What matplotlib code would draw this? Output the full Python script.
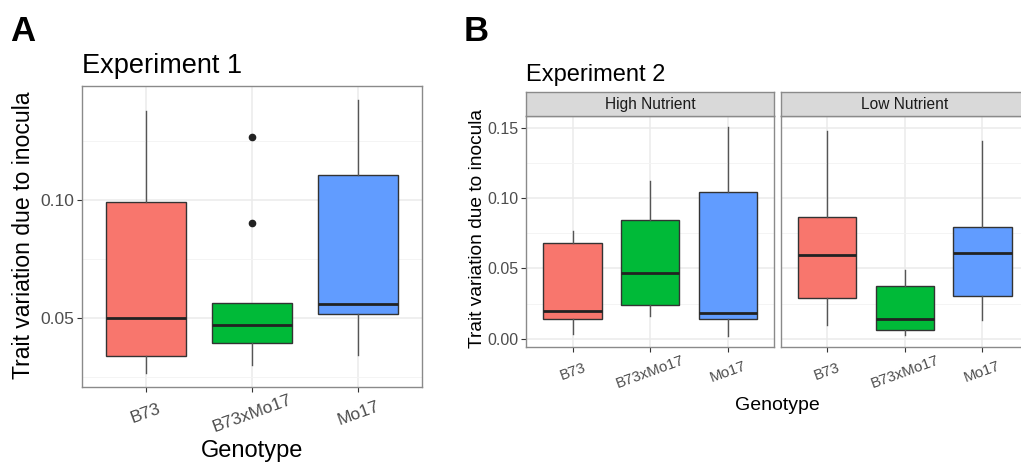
import matplotlib
matplotlib.use("Agg")
import matplotlib.pyplot as plt

plt.rcParams['font.family'] = ['Liberation Sans', 'DejaVu Sans']

genotypes = ["B73", "B73xMo17", "Mo17"]
colors = ["#F8766D", "#00BA38", "#619CFF"]

# Experiment 1 box statistics
exp1_whislo = [0.0264, 0.0301, 0.0343]
exp1_q1 = [0.0338, 0.0391, 0.0514]
exp1_med = [0.0500, 0.0469, 0.0558]
exp1_q3 = [0.0991, 0.0562, 0.1103]
exp1_whishi = [0.1374, 0.0562, 0.1424]
exp1_fliers = [[], [0.0901, 0.1266], []]

# Experiment 2, High Nutrient
high_whislo = [0.0033, 0.0159, 0.0017]
high_q1 = [0.0140, 0.0237, 0.0140]
high_med = [0.0194, 0.0466, 0.0182]
high_q3 = [0.0679, 0.0845, 0.1039]
high_whishi = [0.0762, 0.1117, 0.1507]

# Experiment 2, Low Nutrient
low_whislo = [0.0099, 0.0028, 0.0130]
low_q1 = [0.0289, 0.0059, 0.0300]
low_med = [0.0594, 0.0140, 0.0606]
low_q3 = [0.0868, 0.0371, 0.0795]
low_whishi = [0.1476, 0.0490, 0.1401]

W, H = 1021, 466
fig = plt.figure(figsize=(W / 100, H / 100), dpi=100)


def px(l, t, r, b):
    return [l / W, 1 - b / H, (r - l) / W, (b - t) / H]


def draw_boxes(ax, whislo, q1, med, q3, whishi, fliers, ylim, yticks, yminor,
               ytick_size, xtick_size, xpad, show_y=True):
    stats = []
    for i in range(len(genotypes)):
        stats.append(dict(whislo=whislo[i], q1=q1[i], med=med[i], q3=q3[i],
                          whishi=whishi[i], fliers=fliers[i]))
    bp = ax.bxp(stats, positions=range(len(genotypes)), widths=0.75,
                patch_artist=True, showcaps=False,
                boxprops=dict(edgecolor="#333333", linewidth=1.0),
                medianprops=dict(color="#222222", linewidth=2.0),
                whiskerprops=dict(color="#555555", linewidth=1.0),
                flierprops=dict(marker="o", markerfacecolor="#222222",
                                markeredgecolor="#222222", markersize=4.5))
    for patch, c in zip(bp["boxes"], colors):
        patch.set_facecolor(c)
    ax.set_xlim(-0.6, 2.6)
    ax.set_ylim(*ylim)
    ax.set_yticks(yticks)
    ax.set_yticks(yminor, minor=True)
    ax.set_xticks(range(len(genotypes)))
    # ggplot-style rotated labels: centred on the tick, rotated about their centre
    ax.set_xticklabels(genotypes, rotation=20, ha="center", va="center",
                       rotation_mode="anchor", fontsize=xtick_size, color="#4D4D4D")
    ax.set_yticklabels([f"{v:.2f}" for v in yticks], fontsize=ytick_size,
                       color="#4D4D4D")
    ax.grid(True, which="major", color="#EBEBEB", linewidth=1.1)
    ax.grid(True, which="minor", axis="y", color="#F3F3F3", linewidth=0.6)
    ax.set_axisbelow(True)
    ax.tick_params(which="major", length=3.5, color="#333333", width=0.8, pad=2)
    ax.tick_params(axis="x", pad=xpad)
    ax.tick_params(which="minor", length=0)
    if not show_y:
        ax.tick_params(axis="y", which="both", left=False, labelleft=False)
    for s in ax.spines.values():
        s.set_color("#8A8A8A")
        s.set_linewidth(1.0)


# Panel A
axA = fig.add_axes(px(82, 86, 422, 387))
draw_boxes(axA, exp1_whislo, exp1_q1, exp1_med, exp1_q3, exp1_whishi, exp1_fliers,
           (0.0206, 0.1482), [0.05, 0.10], [0.025, 0.075, 0.125], 12.5, 12.6, 15.5)

# Panel B facets
B_ylim = (-0.0061, 0.1582)
B_ticks = [0.00, 0.05, 0.10, 0.15]
B_minor = [0.025, 0.075, 0.125]
axB1 = fig.add_axes(px(526, 116, 774.3, 347.3))
draw_boxes(axB1, high_whislo, high_q1, high_med, high_q3, high_whishi, [[], [], []],
           B_ylim, B_ticks, B_minor, 11.5, 10.8, 14.0)
axB2 = fig.add_axes(px(780.7, 116, 1029, 347.3))
draw_boxes(axB2, low_whislo, low_q1, low_med, low_q3, low_whishi, [[], [], []],
           B_ylim, B_ticks, B_minor, 11.5, 10.8, 14.0, show_y=False)

# facet strips
for l, r, label in [(526, 774.3, "High Nutrient"), (780.7, 1029, "Low Nutrient")]:
    sax = fig.add_axes(px(l, 92.3, r, 116))
    sax.set_facecolor("#D9D9D9")
    sax.set_xticks([])
    sax.set_yticks([])
    for s in sax.spines.values():
        s.set_color("#8A8A8A")
        s.set_linewidth(1.0)
    sax.text(0.5, 0.5, label, ha="center", va="center", fontsize=11.2,
             color="#1A1A1A", transform=sax.transAxes)

# titles and labels
fig.text(10 / W, 1 - 41 / H, "A", fontsize=25, fontweight="bold", va="baseline")
fig.text(464 / W, 1 - 41 / H, "B", fontsize=25, fontweight="bold", va="baseline")
fig.text(82 / W, 1 - 72.7 / H, "Experiment 1", fontsize=19.5, va="baseline")
fig.text(526 / W, 1 - 81 / H, "Experiment 2", fontsize=17, va="baseline")
fig.text(24 / W, 1 - 235 / H, "Trait variation due to inocula", fontsize=16.6,
         rotation=90, ha="center", va="center")
fig.text(252 / W, 1 - 457 / H, "Genotype", fontsize=17, ha="center", va="baseline")
fig.text(477 / W, 1 - 228 / H, "Trait variation due to inocula", fontsize=13.8,
         rotation=90, ha="center", va="center")
fig.text(777 / W, 1 - 410 / H, "Genotype", fontsize=14, ha="center", va="baseline")

fig.savefig("out.png", dpi=100)
